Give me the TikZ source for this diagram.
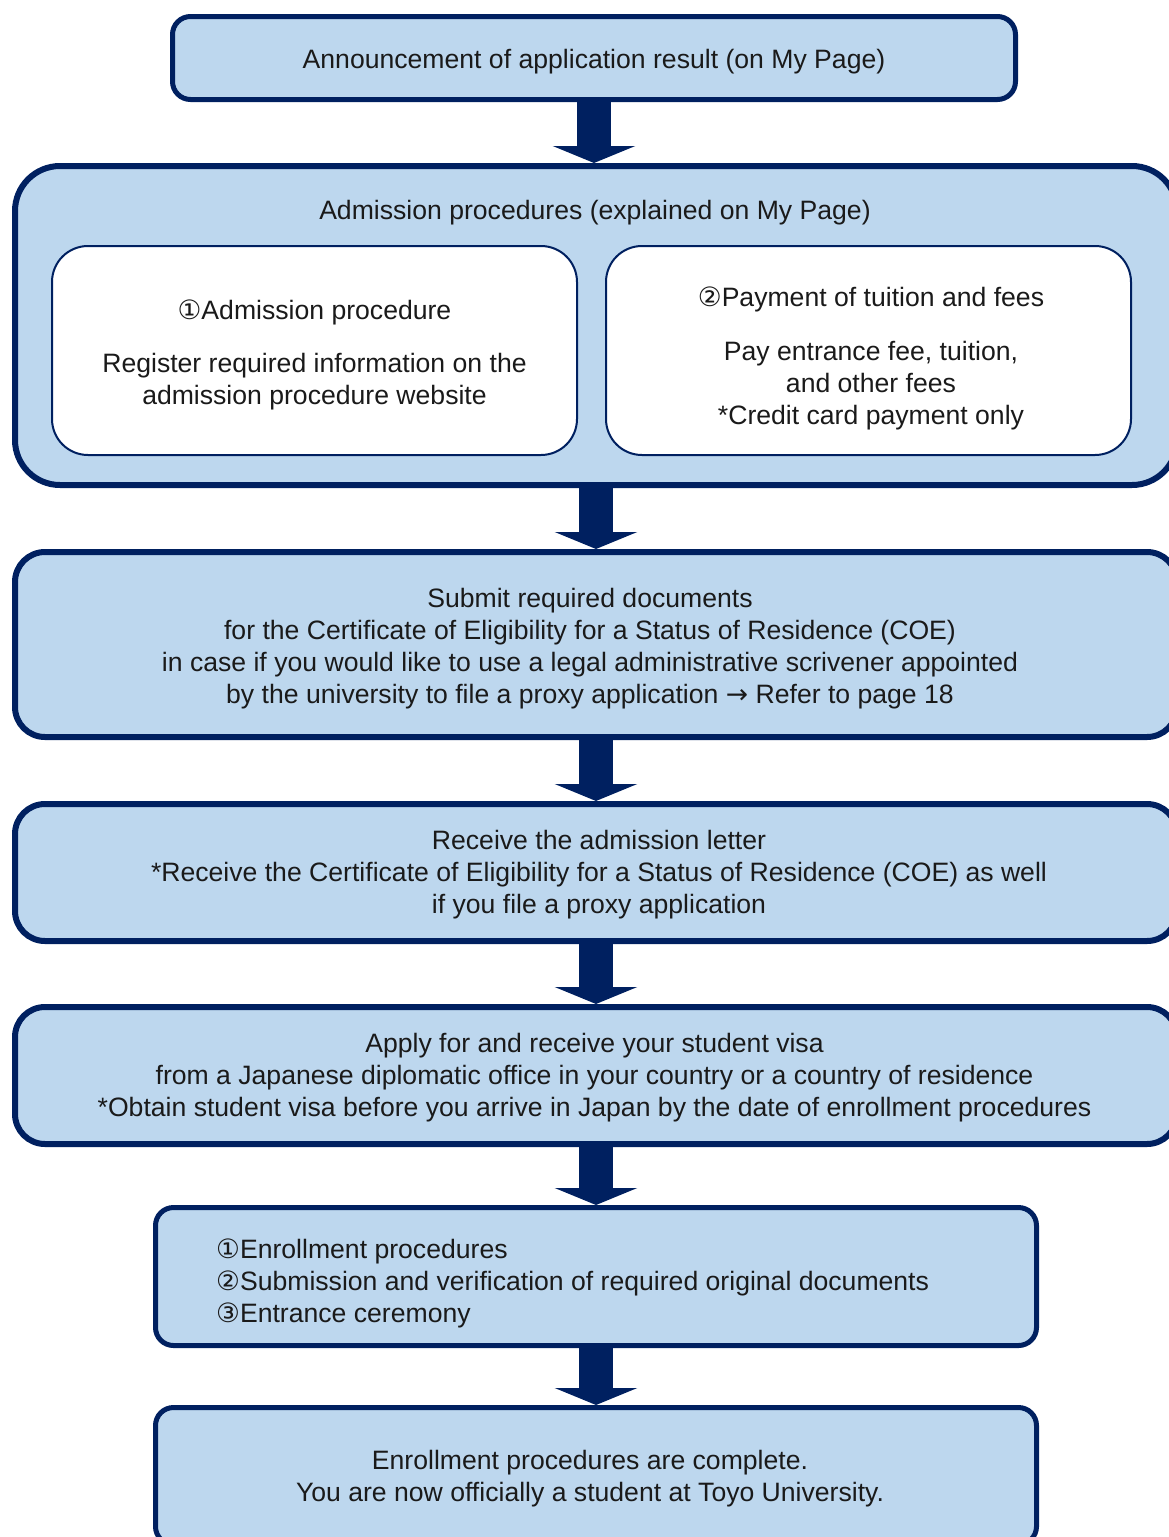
\documentclass[tikz,border=0pt]{standalone}
\usepackage{fontspec}
\setmainfont{Liberation Sans}
\newfontfamily\circfont{DejaVu Sans}
\usetikzlibrary{arrows.meta}
\definecolor{boxfill}{HTML}{BDD7EE}
\definecolor{navy}{HTML}{002060}
\definecolor{txt}{HTML}{1A1A1A}
\begin{document}
\begin{tikzpicture}[x=1pt,y=-1pt,
  every node/.style={font=\fontsize{26.6}{32}\selectfont, text=txt, inner sep=0pt},
  label/.style={align=center},
  flowbox/.style={draw=navy, line width=5pt, fill=boxfill, rounded corners=18pt},
  widebox/.style={flowbox, line width=6pt, rounded corners=30pt, minimum width=1162pt},
  subbox/.style={draw=navy, line width=2pt, fill=white, rounded corners=36pt, minimum width=525pt, minimum height=209pt},
  flowarrow/.style={draw=navy, line width=34pt, -{Triangle[width=82pt,length=17pt]}}
]
\useasboundingbox (0,0) rectangle (1169,1537);
\clip (0,0) rectangle (1169,1537);

% boxes
\node[flowbox, minimum width=843pt, minimum height=83pt] (announce) at (594,58) {};
\node[widebox, rounded corners=45pt, minimum height=319pt] (admission) at (596,325.5) {};
\node[subbox] (proc) at (314.5,350.5) {};
\node[subbox] (pay) at (868.5,350.5) {};
\node[widebox, minimum height=185pt] (coe) at (596,644.5) {};
\node[widebox, minimum height=137pt] (letter) at (596,872.5) {};
\node[widebox, minimum height=137pt] (visa) at (596,1075.5) {};
\node[flowbox, minimum width=881pt, minimum height=138pt] (enroll) at (596,1276.5) {};
\node[flowbox, minimum width=881pt, minimum height=137pt] (done) at (596,1476) {};

% texts
\node[label] (announcetext) at (594,62) {Announcement of application result (on My Page)};
\node[label] (admtitle) at (595,213) {Admission procedures (explained on My Page)};
\node[label] (proctext) at (314.5,354.5)
  {{\circfont ①}Admission procedure\\[21pt]Register required information on the\\admission procedure website};
\node[label] (paytext) at (871,358)
  {{\circfont ②}Payment of tuition and fees\\[22pt]Pay entrance fee, tuition,\\and other fees\\*Credit card payment only};
\node[label] (coetext) at (590,649)
  {Submit required documents\\for the Certificate of Eligibility for a Status of Residence (COE)\\in case if you would like to use a legal administrative scrivener appointed\\by the university to file a proxy application {\circfont →} Refer to page 18};
\node[label] (lettertext) at (599,875)
  {Receive the admission letter\\*Receive the Certificate of Eligibility for a Status of Residence (COE) as well\\if you file a proxy application};
\node[label] (visatext) at (594.5,1078)
  {Apply for and receive your student visa\\from a Japanese diplomatic office in your country or a country of residence\\*Obtain student visa before you arrive in Japan by the date of enrollment procedures};
\node[align=left, anchor=west] (enrolltext) at (216,1283)
  {{\circfont ①}Enrollment procedures\\{\circfont ②}Submission and verification of required original documents\\{\circfont ③}Entrance ceremony};
\node[label] (donetext) at (590,1479)
  {Enrollment procedures are complete.\\You are now officially a student at Toyo University.};

% arrows
\draw[flowarrow] (announce.south) -- (announce.south |- admission.north);
\draw[flowarrow] (admission.south) -- (coe.north);
\draw[flowarrow] (coe.south) -- (letter.north);
\draw[flowarrow] (letter.south) -- (visa.north);
\draw[flowarrow] (visa.south) -- (enroll.north);
\draw[flowarrow] (enroll.south) -- (done.north);
\end{tikzpicture}
\end{document}
